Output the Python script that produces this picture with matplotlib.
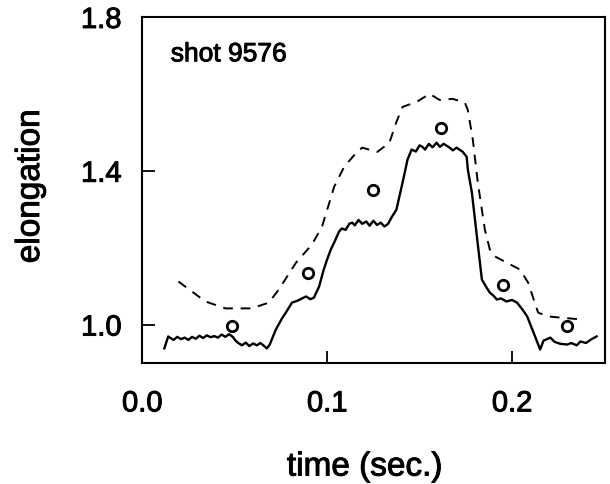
import matplotlib
matplotlib.use("Agg")
import matplotlib.pyplot as plt
import matplotlib.patheffects as pe

plt.rcParams["font.family"] = ["Liberation Sans", "DejaVu Sans"]

# mesure (trace continue, bruitée)
t_meas = [0.012, 0.0141, 0.017, 0.019, 0.021, 0.023, 0.025, 0.027, 0.029, 0.031,
          0.033, 0.035, 0.037, 0.039, 0.041, 0.043, 0.045, 0.047, 0.049, 0.0505,
          0.052, 0.054, 0.056, 0.058, 0.060, 0.062, 0.064, 0.066, 0.0674, 0.069,
          0.0723, 0.0755, 0.0777, 0.081, 0.084, 0.0865, 0.0886, 0.091, 0.0929,
          0.0957, 0.098, 0.100, 0.102, 0.1038, 0.1065, 0.108, 0.110, 0.112,
          0.1136, 0.115, 0.117, 0.119, 0.1212, 0.123, 0.125, 0.127, 0.129,
          0.131, 0.133, 0.1348, 0.1375, 0.1408, 0.1435, 0.1457, 0.148, 0.150,
          0.1516, 0.153, 0.155, 0.157, 0.1592, 0.161, 0.163, 0.1663, 0.168,
          0.170, 0.1734, 0.1755, 0.1761, 0.1783, 0.181, 0.1837, 0.186, 0.188,
          0.190, 0.1918, 0.194, 0.197, 0.200, 0.2027, 0.2055, 0.2082, 0.2114,
          0.2152, 0.217, 0.2207, 0.223, 0.226, 0.2299, 0.232, 0.235, 0.237,
          0.240, 0.243, 0.2457]
v_meas = [0.938, 0.969, 0.960, 0.968, 0.962, 0.966, 0.960, 0.968, 0.963, 0.971,
          0.965, 0.972, 0.967, 0.970, 0.966, 0.974, 0.968, 0.975, 0.968, 0.958,
          0.952, 0.946, 0.953, 0.944, 0.951, 0.946, 0.952, 0.944, 0.938, 0.948,
          0.987, 1.015, 1.031, 1.057, 1.062, 1.068, 1.073, 1.066, 1.070,
          1.099, 1.140, 1.169, 1.195, 1.213, 1.242, 1.250, 1.246, 1.262,
          1.265, 1.258, 1.272, 1.262, 1.268, 1.257, 1.270, 1.259, 1.265,
          1.255, 1.262, 1.278, 1.299, 1.369, 1.429, 1.455, 1.450, 1.466,
          1.462, 1.455, 1.470, 1.461, 1.473, 1.462, 1.470, 1.460, 1.453,
          1.460, 1.449, 1.436, 1.403, 1.343, 1.229, 1.117, 1.098, 1.083,
          1.075, 1.065, 1.068, 1.060, 1.064, 1.057, 1.040, 1.021, 0.982,
          0.935, 0.958, 0.966, 0.955, 0.950, 0.948, 0.952, 0.946, 0.956,
          0.952, 0.962, 0.969]

# calcul (trait pointillé)
t_calc = [0.0196, 0.0342, 0.0451, 0.0592, 0.0685, 0.0739, 0.0832, 0.0918,
          0.0973, 0.1038, 0.1092, 0.1158, 0.1190, 0.1272, 0.1337, 0.1375,
          0.1408, 0.1484, 0.1554, 0.1609, 0.1679, 0.1745, 0.1761, 0.1788,
          0.1815, 0.1853, 0.1880, 0.1908, 0.2043, 0.2087, 0.2141, 0.2196,
          0.2380]
v_calc = [1.112, 1.060, 1.042, 1.042, 1.057, 1.091, 1.161, 1.208,
          1.255, 1.358, 1.410, 1.447, 1.460, 1.449, 1.473, 1.527,
          1.566, 1.579, 1.600, 1.584, 1.587, 1.577, 1.558, 1.481,
          1.369, 1.247, 1.195, 1.177, 1.143, 1.109, 1.031, 1.021,
          1.013]

# points (cercles)
t_pts = [0.0484, 0.0897, 0.125, 0.1614, 0.195, 0.2299]
v_pts = [0.995, 1.135, 1.35, 1.51, 1.104, 0.997]

# texte un peu plus gras, comme l'original imprimé
heavy = [pe.withStroke(linewidth=0.7, foreground="black")]

fig = plt.figure(figsize=(6.1, 4.84), dpi=100)
ax = fig.add_axes([0.233, 0.25, 0.758, 0.715])

ax.plot(t_meas, v_meas, color="black", lw=1.7)
ax.plot(t_calc, v_calc, color="black", lw=1.4, dashes=(5, 4))
ax.plot(t_pts, v_pts, "o", mfc="white", mec="black", mew=2.0, ms=7.5)

ax.set_xlim(0.0, 0.25)
ax.set_ylim(0.9, 1.8)
ax.set_xticks([0.0, 0.1, 0.2])
ax.set_xticklabels(["0.0", "0.1", "0.2"])
ax.set_yticks([1.0, 1.4, 1.8])
ax.set_yticklabels(["1.0", "1.4", "1.8"])
ax.tick_params(axis="both", direction="in", length=9, width=1.3,
               labelsize=21)
ax.tick_params(axis="x", pad=19)
ax.tick_params(axis="y", pad=15)
for lab in ax.get_xticklabels() + ax.get_yticklabels():
    lab.set_path_effects(heavy)

for s in ax.spines.values():
    s.set_linewidth(1.5)

ax.text(0.062, 0.892, "shot 9576", transform=ax.transAxes,
        fontsize=19, va="center", ha="left", path_effects=heavy)

fig.text(0.598, 0.035, "time (sec.)", fontsize=24, ha="center",
         va="center", path_effects=heavy)
fig.text(0.05, 0.615, "elongation", fontsize=24, ha="center",
         va="center", rotation=90, path_effects=heavy)

fig.savefig("out.png", dpi=100)
